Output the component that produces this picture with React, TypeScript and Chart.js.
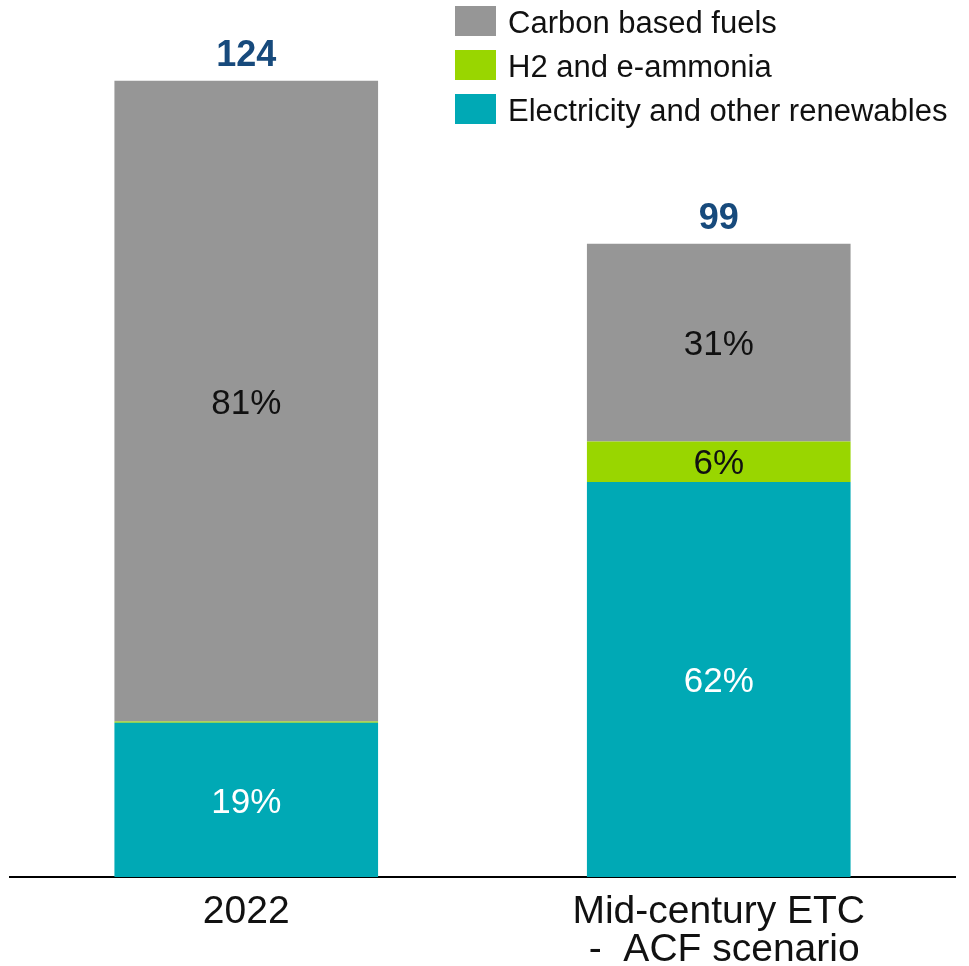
import React, { useEffect, useRef } from "react";
import { Chart, registerables } from "chart.js";

Chart.register(...registerables);

const categories: (string | string[])[] = ["2022", ["Mid-century ETC", " -  ACF scenario"]];
const electricity = [24.0, 61.5];
const h2 = [0.2, 6.3];
const carbon = [99.8, 30.8];
const electricityPct = ["19%", "62%"];
const h2Pct = ["", "6%"];
const carbonPct = ["81%", "31%"];
const totals = ["124", "99"];

const seriesNames = ["Electricity and other renewables", "H2 and e-ammonia", "Carbon based fuels"];
const seriesColors = ["#00A9B5", "#99D600", "#969696"];
const labelColors = ["#ffffff", "#111111", "#111111"];
const FONT = "'Liberation Sans', Arial, sans-serif";

const labelPlugin = {
  id: "segLabels",
  afterDatasetsDraw(chart: any) {
    const ctx = chart.ctx;
    const pctSets = [electricityPct, h2Pct, carbonPct];
    ctx.save();
    ctx.textAlign = "center";
    ctx.textBaseline = "middle";
    chart.data.datasets.forEach((ds: any, di: number) => {
      const meta = chart.getDatasetMeta(di);
      meta.data.forEach((bar: any, i: number) => {
        const txt = pctSets[di][i];
        if (!txt) return;
        ctx.fillStyle = labelColors[di];
        ctx.font = `35px ${FONT}`;
        ctx.fillText(txt, bar.x, (bar.y + bar.base) / 2 + 3);
      });
    });
    const topMeta = chart.getDatasetMeta(chart.data.datasets.length - 1);
    topMeta.data.forEach((bar: any, i: number) => {
      ctx.fillStyle = "#174A7C";
      ctx.font = `bold 36px ${FONT}`;
      ctx.fillText(totals[i], bar.x, bar.y - 25);
    });
    ctx.restore();
  },
};

export default function App() {
  const ref = useRef<HTMLCanvasElement | null>(null);
  useEffect(() => {
    if (!ref.current) return;
    const chart = new Chart(ref.current, {
      type: "bar",
      data: {
        labels: categories,
        datasets: [
          { label: seriesNames[0], data: electricity, backgroundColor: seriesColors[0] },
          { label: seriesNames[1], data: h2, backgroundColor: seriesColors[1] },
          { label: seriesNames[2], data: carbon, backgroundColor: seriesColors[2] },
        ],
      },
      options: {
        animation: false,
        responsive: false,
        maintainAspectRatio: false,
        layout: { padding: { left: 10, right: 14, top: 10, bottom: 1 } },
        datasets: { bar: { barPercentage: 0.558, categoryPercentage: 1 } },
        plugins: { legend: { display: false }, tooltip: { enabled: false } },
        scales: {
          x: {
            stacked: true,
            grid: { display: false, drawTicks: false },
            border: { display: true, color: "#000000", width: 2 },
            afterFit: (scale: any) => {
              scale.height = 88;
            },
            ticks: {
              color: "#111111",
              padding: 16,
              font: { family: FONT, size: 39, lineHeight: 0.98 },
              maxRotation: 0,
              autoSkip: false,
            },
          },
          y: {
            stacked: true,
            display: false,
            min: 0,
            max: 135,
          },
        },
      },
      plugins: [labelPlugin],
    });
    return () => chart.destroy();
  }, []);

  const legendItems = [2, 1, 0];
  return (
    <div style={{ position: "fixed", left: 0, top: 0, width: 969, height: 966, background: "#fff" }}>
      <canvas ref={ref} width={969} height={966} style={{ position: "absolute", left: 0, top: 0 }} />
      {legendItems.map((si, k) => (
        <div
          key={si}
          style={{
            position: "absolute",
            left: 455,
            top: 6 + k * 44,
            height: 30,
            display: "flex",
            alignItems: "center",
            whiteSpace: "nowrap",
          }}
        >
          <div style={{ width: 41, height: 30, background: seriesColors[si] }} />
          <span
            style={{
              marginLeft: 12,
              fontFamily: FONT,
              fontSize: 31,
              color: "#111111",
              lineHeight: "30px",
              position: "relative",
              top: 2,
            }}
          >
            {seriesNames[si]}
          </span>
        </div>
      ))}
    </div>
  );
}
